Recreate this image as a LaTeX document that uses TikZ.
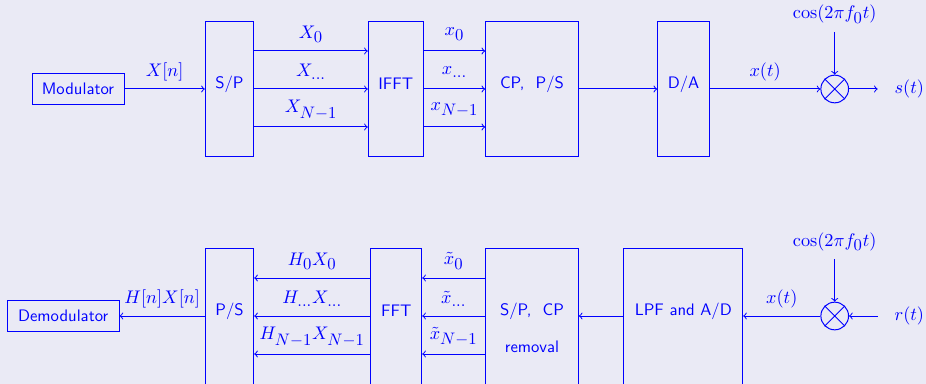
\documentclass[tikz,border=0pt]{standalone}
\usetikzlibrary{calc}
\DeclareMathSizes{11}{11}{9.7}{7.5}
\definecolor{bgc}{RGB}{234,234,245}
\begin{document}
\begin{tikzpicture}[x=0.6pt,y=-0.6pt, line width=0.6pt, draw=blue, >=to,
  blk/.style={draw=blue, inner sep=0pt, minimum height=81.4pt},
  bblk/.style={draw=blue, inner sep=0pt, minimum height=86.4pt},
  sbox/.style={draw=blue, text=blue, inner sep=0pt, minimum height=18.6pt, font=\sffamily},
  btxt/.style={text=blue, font=\sffamily, inner sep=0pt},
  lab/.style={text=blue, font=\fontsize{11}{13}\selectfont, inner sep=0pt},
  ulab/.style={lab, midway, yshift=10.2pt},
  mix/.style={draw=blue, circle, minimum size=16.6pt, inner sep=0pt},
  conn/.style={draw=blue, ->}]
\useasboundingbox (0,0) rectangle (926,384);
\fill[bgc] (0,0) rectangle (926,384);
\clip (0,0) rectangle (926,384);
% row reference coordinates
\coordinate (t0) at (0,51);
\coordinate (t1) at (0,89);
\coordinate (t2) at (0,127);
\coordinate (r0) at (0,278);
\coordinate (r1) at (0,316);
\coordinate (r2) at (0,354);
% ---------------- top row ----------------
\node[sbox, minimum width=55.2pt] (mod) at (78,89) {Modulator};
\node[blk, minimum width=29pt] (sp) at (229.5,89) {};
\node[btxt] (sptxt) at (229.5,84) {S/P};
\node[blk, minimum width=33pt] (ifft) at (395.8,89) {};
\node[btxt] (iffttxt) at (395.8,84) {IFFT};
\node[blk, minimum width=55.6pt] (cp) at (532,89) {};
\node[btxt] (cptxt) at (532,84) {CP,\ \ P/S};
\node[blk, minimum width=31pt] (da) at (683.5,89) {};
\node[btxt] (datxt) at (683.5,84) {D/A};
\node[mix] (m1) at (834.7,89) {};
\draw[blue] (m1.north west) -- (m1.south east) (m1.north east) -- (m1.south west);
\node[lab] (cos1) at (834.7,14) {$\cos(2\pi f_0 t)$};
\coordinate (c1) at (834.7,32);
\node[lab] (s) at (909.3,89) {$s(t)$};
\coordinate (s0) at (877.7,89);

\draw[conn] (mod) -- (sp.west |- t1) node[ulab] {$X[n]$};
\draw[conn] (sp.east |- t0) -- (ifft.west |- t0) node[ulab] {$X_0$};
\draw[conn] (sp.east |- t1) -- (ifft.west |- t1) node[ulab] {$X_{\ldots}$};
\draw[conn] (sp.east |- t2) -- (ifft.west |- t2) node[ulab] {$X_{N-1}$};
\draw[conn] (ifft.east |- t0) -- (cp.west |- t0) node[ulab] {$x_0$};
\draw[conn] (ifft.east |- t1) -- (cp.west |- t1) node[ulab] {$x_{\ldots}$};
\draw[conn] (ifft.east |- t2) -- (cp.west |- t2) node[ulab] {$x_{N-1}$};
\draw[conn] (cp.east |- t1) -- (da.west |- t1);
\draw[conn] (da.east |- t1) -- (m1) node[ulab] {$x(t)$};
\draw[conn] (c1) -- (m1);
\draw[conn] (m1) -- (s0);
% ---------------- bottom row ----------------
\node[sbox, minimum width=67pt] (demod) at (63.2,316) {Demodulator};
\node[bblk, minimum width=29pt] (ps) at (229.5,320) {};
\node[btxt] (pstxt) at (229.5,311) {P/S};
\node[bblk, minimum width=30.6pt] (fft) at (396.2,320) {};
\node[btxt] (ffttxt) at (396.2,311) {FFT};
\node[bblk, minimum width=55.6pt] (spcp) at (532,320) {};
\node[btxt] (spcptxt) at (532,311) {S/P,\ \ CP};
\node[btxt] (remtxt) at (532,347) {removal};
\node[bblk, minimum width=71.2pt] (lpf) at (683.3,320) {};
\node[btxt] (lpftxt) at (683.3,311) {LPF and A/D};
\node[mix] (m2) at (834.7,316) {};
\draw[blue] (m2.north west) -- (m2.south east) (m2.north east) -- (m2.south west);
\node[lab] (cos2) at (834.7,241.7) {$\cos(2\pi f_0 t)$};
\coordinate (c2) at (834.7,259.3);
\node[lab] (r) at (909.3,316) {$r(t)$};
\coordinate (rin) at (877.7,316);

\draw[conn] (ps.west |- r1) -- (demod) node[ulab] {$H[n]X[n]$};
\draw[conn] (fft.west |- r0) -- (ps.east |- r0) node[ulab] {$H_0X_0$};
\draw[conn] (fft.west |- r1) -- (ps.east |- r1) node[ulab] {$H_{\ldots}X_{\ldots}$};
\draw[conn] (fft.west |- r2) -- (ps.east |- r2) node[ulab] {$H_{N-1}X_{N-1}$};
\draw[conn] (spcp.west |- r0) -- (fft.east |- r0) node[ulab] {$\tilde{x}_0$};
\draw[conn] (spcp.west |- r1) -- (fft.east |- r1) node[ulab] {$\tilde{x}_{\ldots}$};
\draw[conn] (spcp.west |- r2) -- (fft.east |- r2) node[ulab] {$\tilde{x}_{N-1}$};
\draw[conn] (lpf.west |- r1) -- (spcp.east |- r1);
\draw[conn] (m2) -- (lpf.east |- r1) node[ulab] {$x(t)$};
\draw[conn] (c2) -- (m2);
\draw[conn] (rin) -- (m2);
\end{tikzpicture}
\end{document}
